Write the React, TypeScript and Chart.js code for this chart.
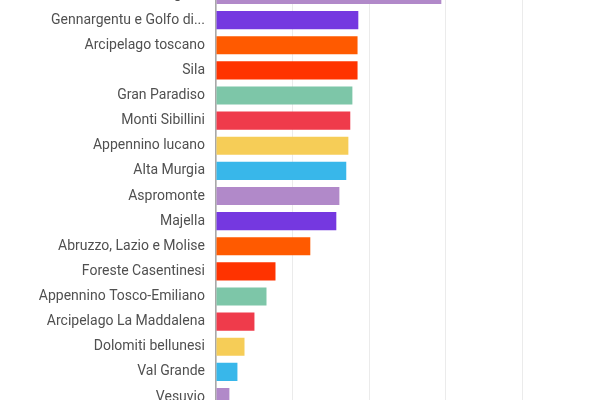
import React, { useEffect, useRef } from "react";
import { Chart, registerables } from "chart.js";

Chart.register(...registerables);

const parks: string[] = [
  "Gargano",
  "Gennargentu e Golfo di Orosei",
  "Arcipelago toscano",
  "Sila",
  "Gran Paradiso",
  "Monti Sibillini",
  "Appennino lucano",
  "Alta Murgia",
  "Aspromonte",
  "Majella",
  "Abruzzo, Lazio e Molise",
  "Foreste Casentinesi",
  "Appennino Tosco-Emiliano",
  "Arcipelago La Maddalena",
  "Dolomiti bellunesi",
  "Val Grande",
  "Vesuvio",
];

const areas: number[] = [
  117800, 74400, 74000, 74000, 71300, 70200, 69200, 68100, 64500, 62900,
  49300, 31100, 26400, 20100, 14900, 11200, 7000,
];

const palette: string[] = [
  "#b189c9",
  "#7538e0",
  "#ff5a00",
  "#ff3300",
  "#7dc6a8",
  "#ef3b4b",
  "#f6cd57",
  "#38b7ea",
];

const xTicks: number[] = [0, 40000, 80000, 120000, 160000];
const xMax = 195000;

export default function App() {
  const canvasRef = useRef<HTMLCanvasElement | null>(null);

  useEffect(() => {
    if (!canvasRef.current) return;
    const chart = new Chart(canvasRef.current, {
      type: "bar",
      data: {
        labels: parks,
        datasets: [
          {
            data: areas,
            backgroundColor: parks.map((_, i) => palette[i % palette.length]),
            borderWidth: 0,
          },
        ],
      },
      options: {
        indexAxis: "y",
        animation: false,
        responsive: true,
        maintainAspectRatio: false,
        layout: { padding: { top: 0, bottom: 0, left: 0, right: 11 } },
        plugins: {
          legend: { display: false },
          tooltip: { enabled: false },
        },
        scales: {
          x: {
            min: 0,
            max: xMax,
            bounds: "data",
            afterBuildTicks: (scale: any) => {
              scale.ticks = xTicks.map((v) => ({ value: v }));
            },
            ticks: { display: false },
            grid: { color: "#ebebeb", lineWidth: 1, drawTicks: false },
            border: { display: false },
          },
          y: {
            afterFit: (scale: any) => {
              scale.width = 216;
            },
            ticks: {
              color: "#505050",
              font: { family: "Roboto, Arial, sans-serif", size: 14 },
              padding: 3,
              callback: function (this: any, value: any) {
                const label = String(this.getLabelForValue(value));
                return label.length > 25 ? label.slice(0, 22) + "..." : label;
              },
            },
            grid: { display: false },
            border: { display: true, color: "#a8a8a8", width: 1.5 },
          },
        },
      },
    });
    return () => chart.destroy();
  }, []);

  return (
    <div
      style={{
        position: "absolute",
        top: 0,
        left: 0,
        width: 600,
        height: 400,
        overflow: "hidden",
        background: "#ffffff",
      }}
    >
      <div
        style={{
          position: "absolute",
          top: -29,
          left: 0,
          width: 600,
          height: 450,
        }}
      >
        <canvas ref={canvasRef} />
      </div>
    </div>
  );
}
